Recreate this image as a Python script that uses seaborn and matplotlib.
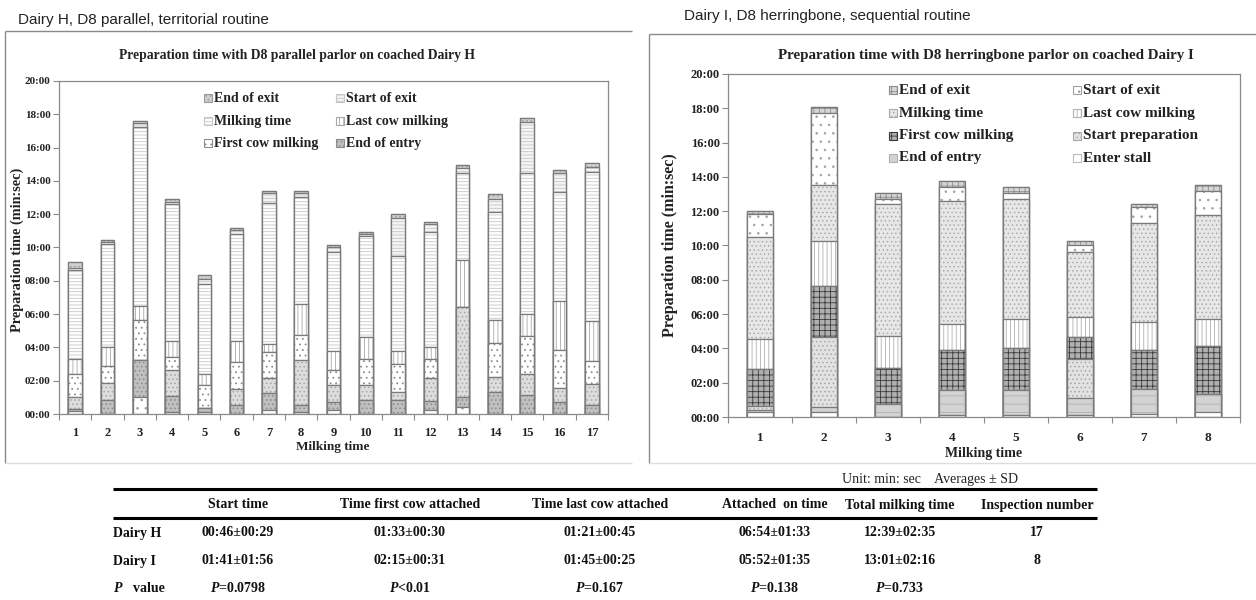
import numpy as np
import matplotlib
matplotlib.use("Agg")
import matplotlib.pyplot as plt
from matplotlib.patches import Rectangle
from matplotlib.lines import Line2D
from matplotlib.ticker import FuncFormatter
import seaborn as sns

# ---------------------------------------------------------------
# Event times (minutes from start) for each milking, Dairy H
# ---------------------------------------------------------------
h_milkings = [str(i) for i in range(1, 18)]
h_enter_stall = [0.16, 0.00, 1.02, 0.10, 0.15, 0.00, 0.22, 0.10, 0.22, 0.00, 0.00, 0.22, 0.40, 0.00, 0.00, 0.00, 0.00]
h_end_entry = [0.32, 0.86, 3.26, 1.10, 0.34, 0.56, 1.26, 0.56, 0.72, 0.84, 0.84, 0.78, 1.02, 1.32, 1.16, 0.72, 0.56]
h_start_prep = [1.02, 1.86, 3.26, 2.64, 0.34, 1.50, 2.16, 3.26, 1.72, 1.72, 1.32, 2.16, 6.40, 2.24, 2.40, 1.54, 1.80]
h_first_cow = [2.40, 2.86, 5.66, 3.42, 1.72, 3.10, 3.72, 4.72, 2.66, 3.32, 3.00, 3.30, 6.40, 4.24, 4.66, 3.86, 3.18]
h_last_cow = [3.30, 4.00, 6.46, 4.40, 2.40, 4.36, 4.20, 6.60, 3.80, 4.60, 3.80, 4.02, 9.26, 5.66, 6.02, 6.80, 5.58]
h_milking = [8.62, 10.20, 17.26, 12.62, 7.82, 10.82, 12.70, 13.06, 9.70, 10.70, 9.50, 10.96, 14.46, 12.16, 14.46, 13.36, 14.56]
h_start_exit = [8.78, 10.34, 17.46, 12.76, 8.10, 11.06, 13.26, 13.26, 10.00, 10.82, 11.80, 11.42, 14.80, 12.90, 17.55, 14.50, 14.86]
h_end_exit = [9.12, 10.48, 17.62, 12.90, 8.34, 11.20, 13.40, 13.40, 10.16, 10.96, 12.00, 11.56, 14.96, 13.22, 17.76, 14.66, 15.06]

# ---------------------------------------------------------------
# Event times (minutes from start) for each milking, Dairy I
# ---------------------------------------------------------------
i_milkings = [str(i) for i in range(1, 9)]
i_enter_stall = [0.29, 0.29, 0.00, 0.10, 0.10, 0.10, 0.15, 0.29]
i_end_entry = [0.43, 0.58, 0.74, 1.56, 1.56, 1.13, 1.64, 1.37]
i_start_prep = [0.63, 4.64, 0.74, 1.56, 1.56, 3.41, 1.64, 1.37]
i_first_cow = [2.77, 7.63, 2.86, 3.90, 4.00, 4.67, 3.90, 4.15]
i_last_cow = [4.54, 10.28, 4.71, 5.45, 5.69, 5.84, 5.55, 5.69]
i_milking = [10.52, 13.53, 12.41, 12.62, 12.70, 9.64, 11.33, 11.78]
i_start_exit = [11.82, 17.72, 12.70, 13.43, 13.05, 10.03, 12.23, 13.20]
i_end_exit = [12.01, 18.07, 13.05, 13.75, 13.40, 10.26, 12.42, 13.53]

stage_names = ["Enter stall", "End of entry", "Start preparation", "First cow milking",
               "Last cow milking", "Milking time", "Start of exit", "End of exit"]
h_legend = ["End of exit", "Start of exit", "Milking time", "Last cow milking",
            "First cow milking", "End of entry"]
i_legend = ["End of exit", "Start of exit", "Milking time", "Last cow milking",
            "First cow milking", "Start preparation", "End of entry", "Enter stall"]

# Summary table
table_columns = ["Start time", "Time first cow attached", "Time last cow attached",
                 "Attached  on time", "Total milking time", "Inspection number"]
row_dairy_h = ["00:46±00:29", "01:33±00:30", "01:21±00:45", "06:54±01:33", "12:39±02:35", "17"]
row_dairy_i = ["01:41±01:56", "02:15±00:31", "01:45±00:25", "05:52±01:35", "13:01±02:16", "8"]
row_p_value = [r"$P$=0.0798", r"$P$<0.01", r"$P$=0.167", r"$P$=0.138", r"$P$=0.733", ""]

# ---------------------------------------------------------------
# Fill / hatch / hatch-colour per stage
# ---------------------------------------------------------------
H_STYLE = {
    "Enter stall":       ("white",   "..",    "#9a9a9a"),
    "End of entry":      ("#c0c0c0", "....",  "#8a8a8a"),
    "Start preparation": ("#dddddd", "....",  "#a5a5a5"),
    "First cow milking": ("white",   "...",   "#8f8f8f"),
    "Last cow milking":  ("white",   "||||",  "#a8a8a8"),
    "Milking time":      ("white",   "-----", "#c6c6c6"),
    "Start of exit":     ("#f4f4f4", "-----", "#c6c6c6"),
    "End of exit":       ("#cfcfcf", "....",  "#9a9a9a"),
}
I_STYLE = {
    "Enter stall":       ("white",   "",      "#bbbbbb"),
    "End of entry":      ("#d3d3d3", "--",    "#b2b2b2"),
    "Start preparation": ("#e2e2e2", "....",  "#a8a8a8"),
    "First cow milking": ("#b0b0b0", "+++",   "#3a3a3a"),
    "Last cow milking":  ("white",   "||||",  "#b0b0b0"),
    "Milking time":      ("#e7e7e7", "....",  "#ababab"),
    "Start of exit":     ("white",   "..",    "#a2a2a2"),
    "End of exit":       ("#d6d6d6", "+++",   "#8c8c8c"),
}
OUTLINE = "#7a7a7a"
AXIS_GRAY = "#8a8a8a"

sns.set_theme(style="ticks")
plt.rcParams["font.family"] = ["Liberation Serif", "DejaVu Serif"]
plt.rcParams["hatch.linewidth"] = 0.6
plt.rcParams["mathtext.fontset"] = "custom"
plt.rcParams["mathtext.it"] = "Liberation Serif:italic:bold"
plt.rcParams["mathtext.rm"] = "Liberation Serif:bold"
plt.rcParams["mathtext.bf"] = "Liberation Serif:bold"

W, H = 1256, 600
fig = plt.figure(figsize=(W / 100, H / 100), dpi=100)
fig.patch.set_facecolor("white")


def fx(px):
    return px / W


def fy(py):
    return 1 - py / H


def draw_stack(ax, cats, layers, styles, width):
    """Stacked columns drawn as overlapping seaborn bars, tallest layer first."""
    for name, values in reversed(layers):
        face, hatch, hcol = styles[name]
        n0 = len(ax.patches)
        sns.barplot(x=cats, y=values, order=cats, color=face, saturation=1,
                    width=width, errorbar=None, linewidth=0.2, edgecolor=hcol, ax=ax)
        for p in ax.patches[n0:]:
            p.set_hatch(hatch)
            p.set_edgecolor(hcol)
            p.set_linewidth(0.2)
        n1 = len(ax.patches)
        sns.barplot(x=cats, y=values, order=cats, fill=False, color=OUTLINE,
                    width=width, errorbar=None, linewidth=0.9, ax=ax)
        for p in ax.patches[n1:]:
            p.set_facecolor("none")
            p.set_edgecolor(OUTLINE)
            p.set_linewidth(0.9)


def style_axes(ax, cats, ytick_size, xtick_size, xpad):
    n = len(cats)
    ax.set_ylim(0, 20)
    ax.set_xlim(-0.5, n - 0.5)
    ax.set_yticks(np.arange(0, 21, 2))
    ax.yaxis.set_major_formatter(FuncFormatter(lambda v, _: f"{int(round(v)):02d}:00"))
    ax.set_xticks(range(n))
    ax.set_xticklabels(cats)
    ax.set_xticks(np.arange(-0.5, n), minor=True)
    ax.tick_params(axis="x", which="major", length=0, pad=xpad, labelsize=xtick_size)
    ax.tick_params(axis="x", which="minor", bottom=True, length=4, width=0.8,
                   color=AXIS_GRAY, direction="out")
    ax.tick_params(axis="y", which="major", left=True, length=4, width=0.8,
                   color=AXIS_GRAY, direction="out", pad=2, labelsize=ytick_size)
    for lab in ax.get_xticklabels() + ax.get_yticklabels():
        lab.set_fontweight("bold")
        lab.set_color("#222222")
    for s in ax.spines.values():
        s.set_visible(True)
        s.set_color(AXIS_GRAY)
        s.set_linewidth(0.9)
    ax.set_xlabel("")
    ax.set_ylabel("")
    ax.grid(False)


def legend_entry(x, y, label, style, size):
    face, hatch, hcol = style
    fig.add_artist(Rectangle((fx(x), fy(y + 4)), 8 / W, 8 / H, transform=fig.transFigure,
                             facecolor=face, hatch=hatch, edgecolor=hcol, lw=0.8))
    fig.text(fx(x + 10), fy(y), label, fontsize=size, fontweight="bold",
             ha="left", va="center", color="#222222")


def hline(x0, x1, y, color, lw):
    fig.add_artist(Line2D([fx(x0), fx(x1)], [fy(y), fy(y)], transform=fig.transFigure,
                          color=color, lw=lw, solid_capstyle="butt"))


def vline(x, y0, y1, color, lw):
    fig.add_artist(Line2D([fx(x), fx(x)], [fy(y0), fy(y1)], transform=fig.transFigure,
                          color=color, lw=lw, solid_capstyle="butt"))


# ---------------- panel frames ----------------
hline(5, 632, 31, "#8a8a8a", 1.0)
vline(5, 31, 463, "#8a8a8a", 1.0)
hline(5, 632, 463, "#dddddd", 1.0)
hline(649, 1256, 34, "#8a8a8a", 1.0)
vline(649, 34, 463, "#8a8a8a", 1.0)
hline(649, 1256, 463, "#dddddd", 1.0)

fig.text(fx(18), fy(20), "Dairy H, D8 parallel, territorial routine",
         fontfamily="Liberation Sans", fontsize=11, ha="left", va="center", color="#222222")
fig.text(fx(684), fy(16), "Dairy I, D8 herringbone, sequential routine",
         fontfamily="Liberation Sans", fontsize=11, ha="left", va="center", color="#222222")

# ---------------- Dairy H chart ----------------
h_layers = list(zip(stage_names, [h_enter_stall, h_end_entry, h_start_prep, h_first_cow,
                                  h_last_cow, h_milking, h_start_exit, h_end_exit]))
ax_h = fig.add_axes([fx(59), fy(414), (608 - 59) / W, (414 - 81) / H])
draw_stack(ax_h, h_milkings, h_layers, H_STYLE, 0.42)
style_axes(ax_h, h_milkings, 8, 9, 9)
fig.text(fx(297), fy(56), "Preparation time with D8 parallel parlor on coached Dairy H",
         fontsize=9.8, fontweight="bold", ha="center", va="center", color="#222222")
fig.text(fx(17), fy(250), "Preparation time (min:sec)", rotation=90, fontsize=10.3,
         fontweight="bold", ha="center", va="center", color="#222222")
fig.text(fx(333), fy(447), "Milking time", fontsize=9.5, fontweight="bold",
         ha="center", va="center", color="#222222")
h_rows = [98, 121, 143]
for k, name in enumerate(h_legend):
    col, row = k % 2, k // 2
    legend_entry(204 if col == 0 else 336, h_rows[row], name, H_STYLE[name], 10)

# ---------------- Dairy I chart ----------------
i_layers = list(zip(stage_names, [i_enter_stall, i_end_entry, i_start_prep, i_first_cow,
                                  i_last_cow, i_milking, i_start_exit, i_end_exit]))
ax_i = fig.add_axes([fx(728), fy(417), (1240 - 728) / W, (417 - 74) / H])
draw_stack(ax_i, i_milkings, i_layers, I_STYLE, 0.42)
style_axes(ax_i, i_milkings, 9, 9.5, 11)
fig.text(fx(986), fy(56), "Preparation time with D8 herringbone parlor on coached Dairy I",
         fontsize=10.8, fontweight="bold", ha="center", va="center", color="#222222")
fig.text(fx(670), fy(245), "Preparation time (min:sec)", rotation=90, fontsize=11.5,
         fontweight="bold", ha="center", va="center", color="#222222")
fig.text(fx(984), fy(454), "Milking time", fontsize=10, fontweight="bold",
         ha="center", va="center", color="#222222")
i_rows = [90, 113, 136, 158]
for k, name in enumerate(i_legend):
    col, row = k % 2, k // 2
    legend_entry(889 if col == 0 else 1073, i_rows[row], name, I_STYLE[name], 11)

# ---------------- summary table ----------------
tab_x0, tab_x1 = 113, 1097
col_centers = [238, 410, 600, 775, 900, 1037]
fig.text(fx(842), fy(479), "Unit: min: sec    Averages ± SD", fontsize=10,
         ha="left", va="center", color="#222222")
hline(tab_x0, tab_x1, 489, "black", 2.2)
hline(tab_x0, tab_x1, 518, "black", 2.2)
for cx, label in zip(col_centers, table_columns):
    fig.text(fx(cx), fy(505), label, fontsize=10, fontweight="bold",
             ha="center", va="center", color="#111111")
for y, label, row in [(533, "Dairy H", row_dairy_h), (561, "Dairy I", row_dairy_i)]:
    fig.text(fx(tab_x0), fy(y), label, fontsize=10, fontweight="bold",
             ha="left", va="center", color="#111111")
    for cx, val in zip(col_centers, row):
        fig.text(fx(cx), fy(y), val, fontsize=10, fontweight="bold",
                 ha="center", va="center", color="#111111")
fig.text(fx(tab_x0), fy(588), r"$P$", fontsize=10, ha="left", va="center", color="#111111")
fig.text(fx(tab_x0 + 20), fy(588), "value", fontsize=10, fontweight="bold",
         ha="left", va="center", color="#111111")
for cx, val in zip(col_centers, row_p_value):
    if val:
        fig.text(fx(cx), fy(588), val, fontsize=10, fontweight="bold",
                 ha="center", va="center", color="#111111")

fig.savefig("out.png", dpi=100, facecolor="white")
